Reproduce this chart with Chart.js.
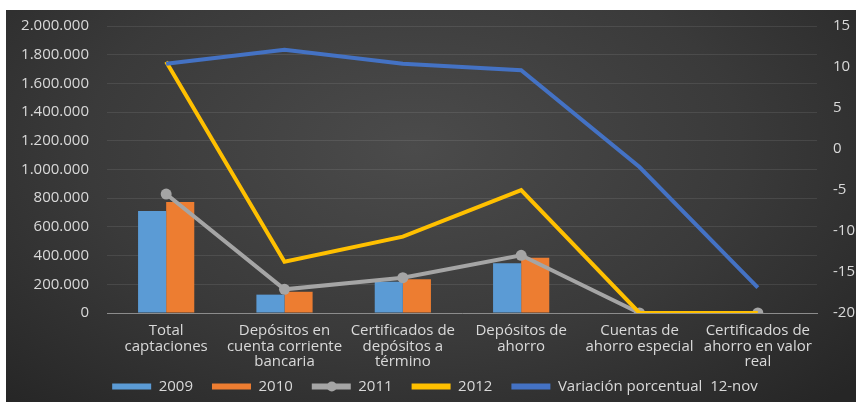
<!DOCTYPE html>
<html>
<head>
<meta charset="utf-8">
<script src="https://cdn.jsdelivr.net/npm/chart.js@4.4.0/dist/chart.umd.min.js"></script>
<style>
	html, body { margin: 0; padding: 0; background: #ffffff; }
	#wrap { position: absolute; left: 6px; top: 10px; width: 850px; height: 392px;
		background: radial-gradient(ellipse 70% 90% at 48% 35%, #4b4b4b 0%, #3a3a3a 55%, #262626 100%); }
</style>
</head>
<body>
<div id="wrap"><canvas id="captaciones" width="850" height="392"></canvas></div>
<script>
// Categories (x axis), split into lines like the original
var categories = [
	['Total', 'captaciones'],
	['Depósitos en', 'cuenta corriente', 'bancaria'],
	['Certificados de', 'depósitos a', 'término'],
	['Depósitos de', 'ahorro'],
	['Cuentas de', 'ahorro especial'],
	['Certificados de', 'ahorro en valor', 'real']
];

// Series values (left axis)
var values_2009 = [711000, 128000, 218000, 346000, 0, 0];
var values_2010 = [773000, 148000, 236000, 385000, 0, 0];
var values_2011 = [829000, 165000, 246000, 402000, 0, 0];
var values_2012 = [1751000, 357000, 532000, 857000, 0, 0];

// Variación porcentual 12-nov (right axis)
var values_var = [10.4, 12.1, 10.4, 9.6, -2.2, -16.9];

// Tick labels
var left_ticks = [0, 200000, 400000, 600000, 800000, 1000000, 1200000, 1400000, 1600000, 1800000, 2000000];
var right_ticks = [-20, -15, -10, -5, 0, 5, 10, 15];

var txt_color = '#d9d9d9';
var font_family = "'Open Sans', 'DejaVu Sans', sans-serif";
var txt_font = { family: font_family, size: 15, lineHeight: 1.04 };

function fmt_miles(v) {
	return String(v).replace(/\B(?=(\d{3})+(?!\d))/g, '.');
}

// Legend: keep it short in the layout, draw it a bit higher, and put a marker on the 2011 line
var legend_tweak = {
	id: 'legend_tweak',
	afterInit: function(chart) {
		var lg = chart.legend;
		var orig_fit = lg.fit;
		lg.fit = function() {
			orig_fit.apply(this, arguments);
			this.height = 32;
		};
	},
	afterLayout: function(chart) {
		chart.legend.top -= 10;
		chart.legend.left += 4;
		chart.legend.right += 4;
	},
	afterDraw: function(chart) {
		var lg = chart.legend;
		if (!lg || !lg.legendHitBoxes) return;
		var ctx = chart.ctx;
		lg.legendItems.forEach(function(item, i) {
			if (item.datasetIndex !== 2) return;
			var box = lg.legendHitBoxes[i];
			ctx.save();
			ctx.fillStyle = '#a5a5a5';
			ctx.beginPath();
			ctx.arc(box.left + 20, box.top + box.height / 2, 5, 0, Math.PI * 2);
			ctx.fill();
			ctx.restore();
		});
	}
};

function no_pad(s) {
	s.paddingTop = 0; s.paddingBottom = 0; s.paddingLeft = 0; s.paddingRight = 0;
}

var ctx = document.getElementById('captaciones');
var cfg = {
	type: 'bar',
	data: {
		labels: categories,
		datasets: [
			{ label: '2009', type: 'bar', data: values_2009, yAxisID: 'y',
			  backgroundColor: '#5b9bd5', order: 3 },
			{ label: '2010', type: 'bar', data: values_2010, yAxisID: 'y',
			  backgroundColor: '#ed7d31', order: 3 },
			{ label: '2011', type: 'line', data: values_2011, yAxisID: 'y',
			  borderColor: '#a5a5a5', backgroundColor: '#a5a5a5', borderWidth: 4,
			  pointRadius: 5.5, pointBackgroundColor: '#a5a5a5', pointBorderWidth: 0, tension: 0, order: 2 },
			{ label: '2012', type: 'line', data: values_2012, yAxisID: 'y',
			  borderColor: '#ffc000', backgroundColor: '#ffc000', borderWidth: 4,
			  pointRadius: 0, tension: 0, order: 1 },
			{ label: 'Variación porcentual  12-nov', type: 'line', data: values_var, yAxisID: 'y2',
			  borderColor: '#4472c4', backgroundColor: '#4472c4', borderWidth: 4,
			  pointRadius: 0, tension: 0, order: 0 }
		]
	},
	options: {
		responsive: false,
		animation: false,
		categoryPercentage: 0.475,
		barPercentage: 1.0,
		layout: { padding: { top: 16, bottom: 0, left: 0, right: 0 } },
		plugins: {
			legend: {
				position: 'bottom',
				labels: {
					color: txt_color,
					font: txt_font,
					boxWidth: 39,
					boxHeight: 6,
					padding: 19,
					generateLabels: function(chart) {
						var items = Chart.defaults.plugins.legend.labels.generateLabels(chart);
						items.forEach(function(it) {
							var ds = chart.data.datasets[it.datasetIndex];
							it.lineWidth = 0;
							it.fillStyle = ds.type === 'line' ? ds.borderColor : ds.backgroundColor;
						});
						return items;
					},
					sort: function(a, b) { return a.datasetIndex - b.datasetIndex; }
				}
			},
			tooltip: { enabled: false }
		},
		scales: {
			x: {
				grid: { display: false, drawTicks: false },
				border: { color: '#8c8c8c', width: 1 },
				afterFit: function(s) { s.height = 57; no_pad(s); },
				ticks: { color: txt_color, font: txt_font, maxRotation: 0, autoSkip: false, padding: 10 }
			},
			y: {
				position: 'left',
				min: 0, max: 2000000,
				afterBuildTicks: function(s) { s.ticks = left_ticks.map(function(v) { return { value: v }; }); },
				afterFit: function(s) { s.width = 101; no_pad(s); },
				grid: { color: 'rgba(255,255,255,0.09)', drawTicks: false },
				border: { display: false },
				ticks: { color: txt_color, font: txt_font, padding: 18,
				         callback: function(v) { return fmt_miles(v); } }
			},
			y2: {
				position: 'right',
				min: -20, max: 15,
				afterBuildTicks: function(s) { s.ticks = right_ticks.map(function(v) { return { value: v }; }); },
				afterFit: function(s) { s.width = 39; no_pad(s); },
				grid: { display: false, drawTicks: false },
				border: { display: false },
				ticks: { color: txt_color, font: txt_font, padding: 16 }
			}
		}
	},
	plugins: [legend_tweak]
};
new Chart(ctx, cfg);
</script>
</body>
</html>
